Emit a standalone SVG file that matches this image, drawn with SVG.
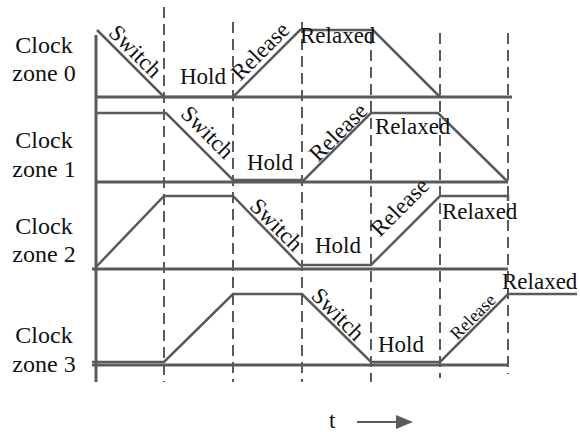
<svg xmlns="http://www.w3.org/2000/svg" width="580" height="432" viewBox="0 0 580 432">
<style>
.ln{fill:none;stroke:#5a5a5a;stroke-width:2.5;stroke-linejoin:miter}
.ax{fill:none;stroke:#5a5a5a;stroke-width:3}
.dash{fill:none;stroke:#5a5a5a;stroke-width:2;stroke-dasharray:11 6}
.lbl{font-size:24px;fill:#111;text-anchor:middle}
.t{font-size:23px;fill:#111}
.tm{text-anchor:middle}
</style>
<rect width="580" height="432" fill="#fff"/>
<g id="grid">
<line class="ax" x1="96" y1="35" x2="96" y2="382"/>
<line class="dash" x1="164" y1="7" x2="164" y2="382"/>
<line class="dash" x1="233" y1="22" x2="233" y2="382"/>
<line class="dash" x1="302" y1="22" x2="302" y2="382"/>
<line class="dash" x1="371" y1="33" x2="371" y2="382"/>
<line class="dash" x1="440" y1="33" x2="440" y2="378"/>
<line class="dash" x1="508" y1="33" x2="508" y2="374"/>
<line class="ax" x1="96" y1="97" x2="512" y2="97"/>
<line class="ax" x1="96" y1="182" x2="508" y2="182"/>
<line class="ax" x1="92" y1="269" x2="508" y2="269"/>
<line class="ax" x1="92" y1="365" x2="508" y2="365"/>
</g>
<g font-family="Liberation Serif, Times New Roman, serif">
<g id="zone0">
<text class="lbl" x="44" y="53">Clock</text>
<text class="lbl" x="44" y="81">zone 0</text>
<path class="ln" d="M97,30 L164,97 L233,97 L300,30 L373,30 L440,97"/>
<text class="t tm" transform="translate(130,56.5) rotate(45)">Switch</text>
<text class="t" x="180" y="84">Hold</text>
<text class="t tm" transform="translate(265.5,56.5) rotate(-45)">Release</text>
<text class="t" x="300" y="43">Relaxed</text>
</g>
<g id="zone1">
<text class="lbl" x="44" y="148">Clock</text>
<text class="lbl" x="44" y="177">zone 1</text>
<path class="ln" d="M96,113 L166,113 L233,180 L304,180 L371,113 L438,113 L508,182"/>
<text class="t tm" transform="translate(202,137.5) rotate(45)">Switch</text>
<text class="t" x="247" y="170">Hold</text>
<text class="t tm" transform="translate(343.5,137.5) rotate(-45)">Release</text>
<text class="t" x="375" y="134">Relaxed</text>
</g>
<g id="zone2">
<text class="lbl" x="44" y="234">Clock</text>
<text class="lbl" x="44" y="262">zone 2</text>
<path class="ln" d="M96,267 L164,196 L233,196 L300,265 L371,265 L440,196 L508,196 L508,201"/>
<text class="t tm" transform="translate(271,230) rotate(45)">Switch</text>
<text class="t" x="315" y="253">Hold</text>
<text class="t tm" transform="translate(405,212.5) rotate(-45)">Release</text>
<text class="t" x="442" y="219">Relaxed</text>
</g>
<g id="zone3">
<text class="lbl" x="44" y="343">Clock</text>
<text class="lbl" x="44" y="372">zone 3</text>
<path class="ln" d="M92,362 L164,362 L233,294 L302,294 L371,362 L440,362 L508,294 L577,294"/>
<text class="t tm" transform="translate(332.5,319.5) rotate(45)">Switch</text>
<text class="t" x="378" y="352">Hold</text>
<text class="t tm" style="font-size:18px" transform="translate(477,321) rotate(-45)">Release</text>
<text class="t" x="502" y="289">Relaxed</text>
</g>
<g id="time-axis">
<text class="t" x="329" y="428">t</text>
<line x1="357" y1="422" x2="398" y2="422" stroke="#5a5a5a" stroke-width="2"/>
<polygon points="396,415 413,422 396,429" fill="#5a5a5a"/>
</g>
</g>
</svg>
